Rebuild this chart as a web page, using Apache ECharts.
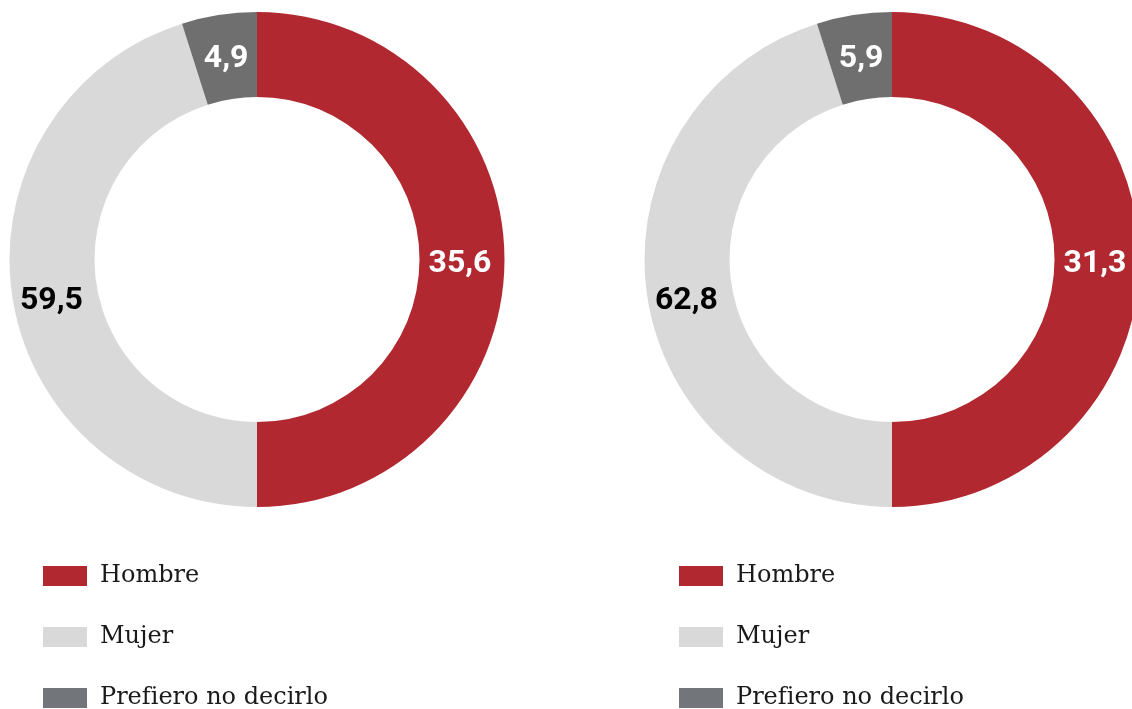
<!DOCTYPE html>
<html lang="es">
<head>
<meta charset="UTF-8">
<title>Donuts</title>
<script src="https://cdn.jsdelivr.net/npm/echarts@6/dist/echarts.min.js"></script>
<style>
  html, body { margin: 0; padding: 0; background: #fff; }
  #chart { width: 1132px; height: 709px; }
</style>
</head>
<body>
<div id="chart"></div>
<script>
var categories = ['Hombre', 'Mujer', 'Prefiero no decirlo'];
// arc shares as drawn in the picture (both rings share the same shape)
var arcShares = [50, 45.1, 4.9];
// printed values
var labelsLeft = ['35,6', '59,5', '4,9'];
var labelsRight = ['31,3', '62,8', '5,9'];
var colors = ['#b12830', '#d9d9d9', '#6f6f6f'];
var legendColors = ['#b12830', '#d9d9d9', '#727579'];
var labelColors = ['#ffffff', '#000000', '#ffffff'];
// small nudges so the labels sit where the original put them
var labelNudge = [[-5, 4], [0, 10], [1, 5]];

function ringData(labels) {
  return categories.map(function (c, i) {
    return {
      name: c,
      value: arcShares[i],
      itemStyle: { color: colors[i] },
      label: { color: labelColors[i], formatter: labels[i], offset: labelNudge[i] }
    };
  });
}

function ring(cx, labels) {
  return {
    type: 'pie',
    center: [cx, 259.5],
    radius: [162.5, 247.5],
    startAngle: 90,
    clockwise: true,
    silent: true,
    animation: false,
    label: {
      show: true,
      position: 'inside',
      fontFamily: 'Roboto',
      fontWeight: 'bold',
      fontSize: 32
    },
    labelLine: { show: false },
    data: ringData(labels)
  };
}

function legend(left) {
  return {
    orient: 'vertical',
    left: left,
    top: 564,
    height: 220,
    padding: 0,
    itemWidth: 44,
    itemHeight: 20,
    itemGap: 37,
    icon: 'rect',
    selectedMode: false,
    textStyle: {
      fontFamily: 'DejaVu Serif',
      fontSize: 24,
      color: '#1a1a1a',
      padding: [0, 0, 0, 8]
    },
    data: categories.map(function (c, i) {
      return { name: c, itemStyle: { color: legendColors[i] } };
    })
  };
}

var myChart = echarts.init(document.getElementById('chart'));
var option = {
  backgroundColor: '#ffffff',
  legend: [legend(43), legend(679)],
  series: [ring(257, labelsLeft), ring(892, labelsRight)]
};
myChart.setOption(option);
</script>
</body>
</html>
